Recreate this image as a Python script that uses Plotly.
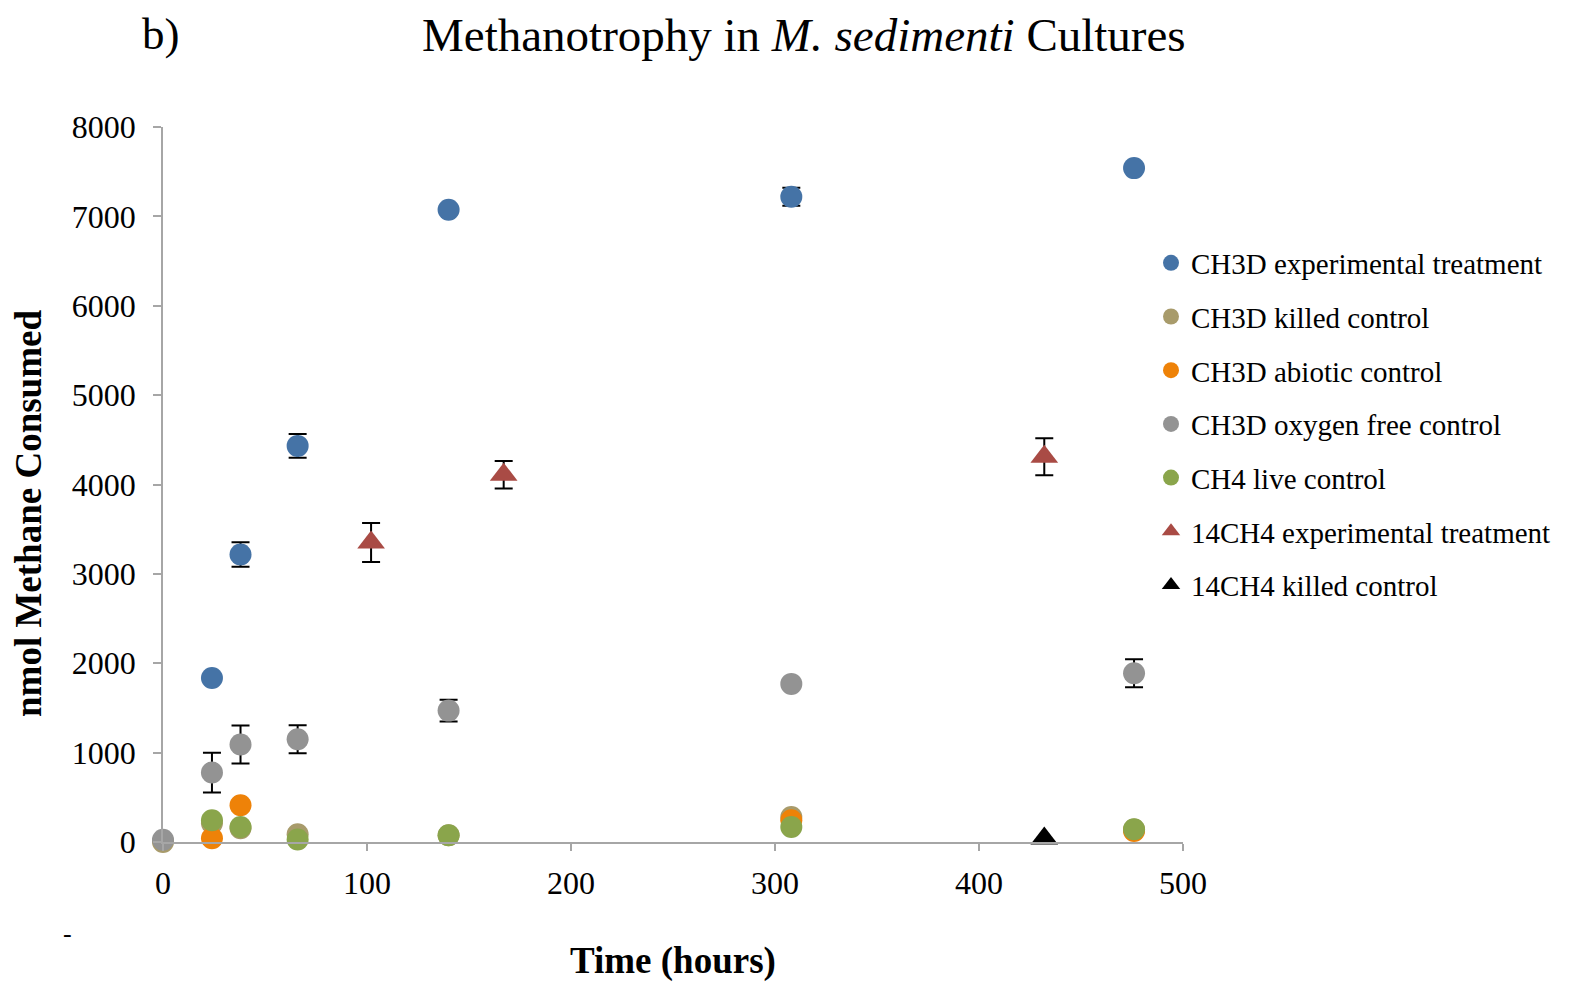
import plotly.graph_objects as go

# ---- data ----
t_exp = [24, 38, 66, 140, 308, 476]
ch3d_exp = [1835, 3216, 4432, 7075, 7220, 7540]
ch3d_exp_err = [0, 137, 133, 0, 100, 0]

t_ctrl = [0, 24, 38, 66, 140, 308, 476]
ch3d_killed = [0, 209, 153, 86, 75, 280, 140]
ch3d_abiotic = [-5, 41, 411, -37, -63, 243, 123]
ch3d_abiotic_err = [0, 171, 0, 0, 0, 0, 0]
ch3d_oxfree = [25, 777, 1090, 1149, 1470, 1769, 1888]
ch3d_oxfree_err = [0, 222, 213, 157, 123, 30, 157]
ch4_live = [-7, 243, 168, 27, 75, 168, 142]

t_14 = [102, 167, 432]
c14_exp = [3352, 4110, 4311]
c14_exp_err = [218, 154, 207]

t_14k = [432]
c14_killed = [40]

x_ticks = [0, 100, 200, 300, 400, 500]
y_ticks = [0, 1000, 2000, 3000, 4000, 5000, 6000, 7000, 8000]

FONT = "Liberation Serif, Times New Roman, serif"

def err(vals):
    return dict(type="data", array=vals, visible=True, color="black",
                thickness=2, width=9)

series = [
    ("CH3D experimental treatment", t_exp, ch3d_exp, ch3d_exp_err, "circle", "#4573A6"),
    ("CH3D killed control", t_ctrl, ch3d_killed, None, "circle", "#A89B6B"),
    ("CH3D abiotic control", t_ctrl, ch3d_abiotic, ch3d_abiotic_err, "circle", "#EE8208"),
    ("CH3D oxygen free control", t_ctrl, ch3d_oxfree, ch3d_oxfree_err, "circle", "#939393"),
    ("CH4 live control", t_ctrl, ch4_live, None, "circle", "#8AA54B"),
    ("14CH4 experimental treatment", t_14, c14_exp, c14_exp_err, "triangle-up", "#A94B45"),
    ("14CH4 killed control", t_14k, c14_killed, None, "triangle-up", "#000000"),
]

fig = go.Figure()
for i, (name, xs, ys, e, sym, col) in enumerate(series):
    fig.add_trace(go.Scatter(
        x=xs, y=ys, mode="markers", name=name,
        marker=dict(symbol=sym, size=22 if sym == "circle" else 24, color=col,
                    line=dict(width=0)),
        error_y=err(e) if e is not None else None,
        cliponaxis=False, legendgroup=str(i),
    ))

# page body has an 8px margin; figure is sized so that the page is 1575x993
OFF = 8
W, H = 1575 - OFF, 993 - OFF
l, t = 163 - OFF, 127 - OFF
pw, ph = 1020, 715
r, b = W - l - pw, H - t - ph

fig.update_layout(
    width=W, height=H,
    paper_bgcolor="white", plot_bgcolor="white",
    margin=dict(l=l, r=r, t=t, b=b, autoexpand=False),
    font=dict(family=FONT, color="black", size=28),
    showlegend=True,
    legend=dict(x=(1151 - OFF - l) / pw, y=0.8455, xanchor="left", yanchor="top",
                font=dict(family=FONT, size=29, color="black"),
                tracegroupgap=13, itemsizing="trace",
                bgcolor="rgba(0,0,0,0)"),
    xaxis=dict(range=[0, 500], tickvals=x_ticks, showgrid=False, zeroline=False,
               showline=True, linecolor="#A6A6A6", linewidth=1.5,
               ticks="outside", ticklen=7, tickcolor="#A6A6A6", tickwidth=1.5,
               tickfont=dict(family=FONT, size=32), ticklabelstandoff=5),
    yaxis=dict(range=[0, 8000], tickvals=y_ticks, showgrid=False, zeroline=False,
               showline=True, linecolor="#A6A6A6", linewidth=1.5,
               ticks="outside", ticklen=8, tickcolor="#A6A6A6", tickwidth=1.5,
               tickfont=dict(family=FONT, size=32), ticklabelstandoff=11),
)

# annotations positioned in page pixels (reference coordinates)
ann_px = [
    ("Methanotrophy in <i>M. sedimenti</i> Cultures", 804, 35, 47, 0),
    ("b)", 161, 34, 45, 0),
    ("<b>nmol Methane Consumed</b>", 28, 514, 37, -90),
    ("<b>Time (hours)</b>", 673, 961, 37, 0),
    ("-", 67, 934, 26, 0),
]
anns = []
for text, px, py, fs, ang in ann_px:
    anns.append(dict(
        text=text, showarrow=False, xref="paper", yref="paper",
        x=(px - OFF - l) / pw, y=(H - b - (py - OFF)) / ph,
        xanchor="center", yanchor="middle", textangle=ang,
        font=dict(family=FONT, size=fs, color="black"),
    ))
fig.update_layout(annotations=anns)

fig.write_html("out.html")
